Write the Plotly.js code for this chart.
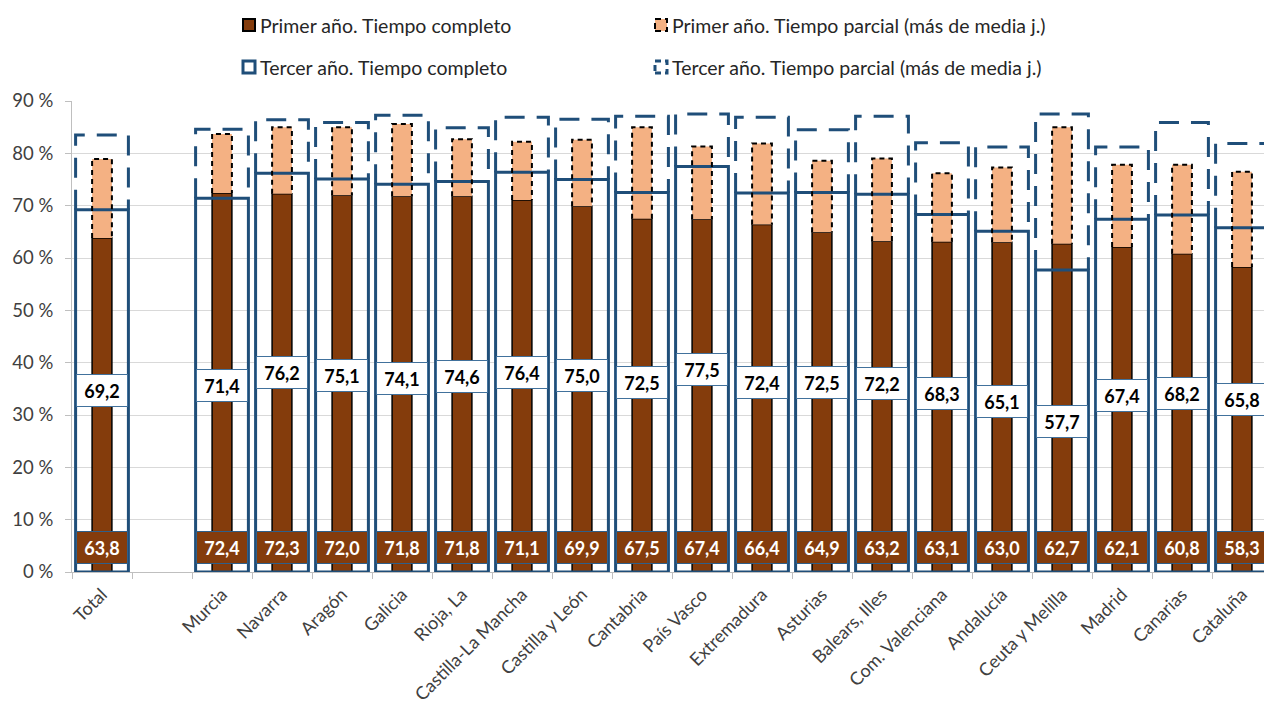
<!DOCTYPE html>
<html>
<head>
<meta charset="utf-8">
<script src="https://cdn.plot.ly/plotly-3.0.1.min.js"></script>
<style>html,body{margin:0;padding:0;background:#fff}#chart{width:1264px;height:711px}</style>
</head>
<body>
<div id="chart"></div>
<script>
const categories = ['Total', '', 'Murcia', 'Navarra', 'Aragón', 'Galicia', 'Rioja, La', 'Castilla-La Mancha', 'Castilla y León', 'Cantabria', 'País Vasco', 'Extremadura', 'Asturias', 'Balears, Illes', 'Com. Valenciana', 'Andalucía', 'Ceuta y Melilla', 'Madrid', 'Canarias', 'Cataluña'];
const primerCompleto = [63.8, null, 72.4, 72.3, 72.0, 71.8, 71.8, 71.1, 69.9, 67.5, 67.4, 66.4, 64.9, 63.2, 63.1, 63.0, 62.7, 62.1, 60.8, 58.3];
const primerParcial  = [15.1, null, 11.3, 12.7, 13.0, 13.8, 10.9, 11.1, 12.7, 17.5, 13.9, 15.5, 13.7, 15.8, 13.1, 14.3, 22.3, 15.7, 17.0, 18.2];
const tercerCompleto = [69.2, null, 71.4, 76.2, 75.1, 74.1, 74.6, 76.4, 75.0, 72.5, 77.5, 72.4, 72.5, 72.2, 68.3, 65.1, 57.7, 67.4, 68.2, 65.8];
const tercerParcial  = [14.3, null, 13.2, 10.2, 10.8, 13.2, 10.3, 10.5, 11.5, 14.6, 10.0, 14.5, 12.0, 14.9, 13.7, 16.1, 29.8, 13.8, 17.7, 16.1];
const seriesNames = ['Primer año. Tiempo completo', 'Primer año. Tiempo parcial (más de media j.)', 'Tercer año. Tiempo completo', 'Tercer año. Tiempo parcial (más de media j.)'];

const BROWN = '#843c0c', ORANGE = '#f4b183', BLUE = '#1f4e79';
const FONT = 'Lato, "Open Sans", sans-serif';
const idx = categories.map((c, i) => i);
const wNarrow = 0.33, wWide = 0.88;

function outlinePath(base, part, w) {
  const xs = [], ys = [];
  idx.forEach(i => {
    if (base[i] == null) return;
    const top = base[i] + part[i];
    xs.push(i - w / 2, i - w / 2, i + w / 2, i + w / 2, null);
    ys.push(base[i], top, top, base[i], null);
  });
  return {x: xs, y: ys};
}
const pOut = outlinePath(primerCompleto, primerParcial, wNarrow);
const tOut = outlinePath(tercerCompleto, tercerParcial, wWide);

const traces = [
  {type: 'bar', x: idx, y: primerCompleto, width: wNarrow, name: seriesNames[0],
   marker: {color: BROWN, line: {color: '#000', width: 1.5}}, hoverinfo: 'skip', showlegend: false},
  {type: 'bar', x: idx, y: primerParcial, base: primerCompleto, width: wNarrow, name: seriesNames[1],
   marker: {color: ORANGE, line: {width: 0}}, hoverinfo: 'skip', showlegend: false},
  {type: 'scatter', mode: 'lines', x: pOut.x, y: pOut.y, line: {color: '#000', width: 2, dash: '5px,4px'},
   hoverinfo: 'skip', showlegend: false, connectgaps: false},
  {type: 'bar', x: idx, y: tercerCompleto, width: wWide, name: seriesNames[2],
   marker: {color: 'rgba(0,0,0,0)', line: {color: BLUE, width: 3}}, hoverinfo: 'skip', showlegend: false},
  {type: 'scatter', mode: 'lines', x: tOut.x, y: tOut.y, line: {color: BLUE, width: 3, dash: '20px,12px'},
   hoverinfo: 'skip', showlegend: false, connectgaps: false}
];

const L = 72, T = 101, B = 139, W = 1264, H = 711;
const plotW = W - L, plotH = H - T - B;
const px2x = px => (px - L) / plotW;
const py2y = py => (H - B - py) / plotH;

const annotations = [];
idx.forEach(i => {
  if (primerCompleto[i] != null) {
    annotations.push({x: i, y: 0, xref: 'x', yref: 'y', yanchor: 'bottom', yshift: 8,
      text: '<b>' + primerCompleto[i].toFixed(1).replace('.', ',') + '</b>', showarrow: false,
      bgcolor: BROWN, bordercolor: '#2e5f8a', borderwidth: 1, borderpad: 0, width: 50, height: 31,
      font: {family: FONT, size: 18, color: '#fff'}});
  }
  if (tercerCompleto[i] != null) {
    annotations.push({x: i, y: tercerCompleto[i] / 2, xref: 'x', yref: 'y',
      text: '<b>' + tercerCompleto[i].toFixed(1).replace('.', ',') + '</b>', showarrow: false,
      bgcolor: '#fff', bordercolor: '#41719c', borderwidth: 1, borderpad: 0, width: 50, height: 31,
      font: {family: FONT, size: 18, color: '#000'}});
  }
});

// manual legend
const legendItems = [
  {px: 243, py: 25, name: seriesNames[0]},
  {px: 655, py: 25, name: seriesNames[1]},
  {px: 243, py: 67, name: seriesNames[2]},
  {px: 655, py: 67, name: seriesNames[3]}
];
const shapes = [];
const s = 12;
shapes.push({type: 'rect', xref: 'paper', yref: 'paper', x0: px2x(243), x1: px2x(243 + s), y0: py2y(25 + s / 2), y1: py2y(25 - s / 2),
  fillcolor: BROWN, line: {color: '#000', width: 2}});
shapes.push({type: 'rect', xref: 'paper', yref: 'paper', x0: px2x(655), x1: px2x(655 + s), y0: py2y(25 + s / 2), y1: py2y(25 - s / 2),
  fillcolor: ORANGE, line: {color: '#000', width: 2, dash: '6px,4px'}});
shapes.push({type: 'rect', xref: 'paper', yref: 'paper', x0: px2x(243), x1: px2x(243 + s), y0: py2y(67 + s / 2), y1: py2y(67 - s / 2),
  fillcolor: '#fff', line: {color: BLUE, width: 3}});
shapes.push({type: 'rect', xref: 'paper', yref: 'paper', x0: px2x(655), x1: px2x(655 + s), y0: py2y(67 + s / 2), y1: py2y(67 - s / 2),
  fillcolor: 'rgba(0,0,0,0)', line: {color: BLUE, width: 3, dash: '6px,4px'}});
legendItems.forEach(it => {
  annotations.push({xref: 'paper', yref: 'paper', x: px2x(it.px + s + 3), y: py2y(it.py), xanchor: 'left', yanchor: 'middle',
    text: it.name, showarrow: false, font: {family: FONT, size: 19.5, color: '#262626'}});
});

const layout = {
  width: W, height: H,
  margin: {l: L, r: 0, t: T, b: B, pad: 0},
  paper_bgcolor: '#fff', plot_bgcolor: '#fff',
  separators: ',.',
  barmode: 'overlay',
  showlegend: false,
  font: {family: FONT, size: 18, color: '#404040'},
  xaxis: {
    range: [-0.5, -0.5 + plotW / 60], tickmode: 'array', tickvals: idx, ticktext: categories,
    tickangle: -45, ticks: '', showgrid: false, zeroline: false,
    showline: true, linecolor: '#bfbfbf', linewidth: 1, ticklabelstandoff: 4,
    tickfont: {family: FONT, size: 18, color: '#404040'},
    minor: {tickmode: 'linear', tick0: -0.5, dtick: 1, ticks: 'outside', ticklen: 6, tickcolor: '#bfbfbf', tickwidth: 1, showgrid: false}
  },
  yaxis: {
    range: [0, 90], dtick: 10, tick0: 0, ticksuffix: ' %',
    showgrid: true, gridcolor: '#d9d9d9', gridwidth: 1, zeroline: false,
    showline: true, linecolor: '#bfbfbf', linewidth: 1, ticklabelstandoff: 8,
    ticks: 'outside', ticklen: 6, tickcolor: '#bfbfbf',
    tickfont: {family: FONT, size: 18.5, color: '#404040'}
  },
  annotations: annotations,
  shapes: shapes
};

Plotly.newPlot('chart', traces, layout, {displayModeBar: false, staticPlot: true});
</script>
</body>
</html>
